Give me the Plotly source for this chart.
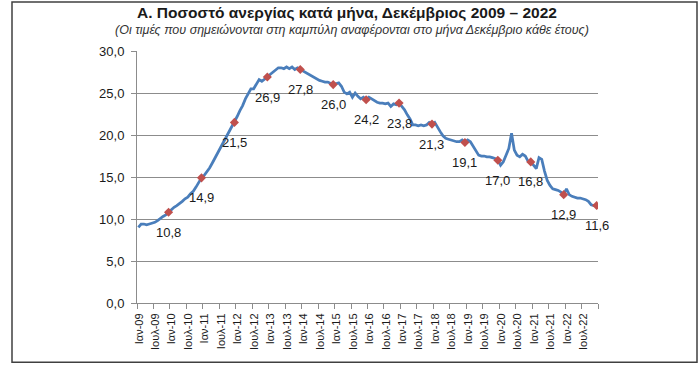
import plotly.graph_objects as go

# ---------------- data ----------------
years = list(range(2009, 2023))
month_tick_names = ["Ιαν", "Ιουλ"]

rates_2009 = [9.0, 9.4, 9.4, 9.3, 9.4, 9.5, 9.6, 9.8, 10.1, 10.3, 10.5, 10.8]
rates_2010 = [11.2, 11.4, 11.6, 11.8, 12.1, 12.4, 12.6, 13.0, 13.3, 13.8, 14.3, 14.9]
rates_2011 = [15.2, 15.6, 16.1, 16.7, 17.3, 17.9, 18.6, 19.2, 19.8, 20.4, 20.9, 21.5]
rates_2012 = [22.2, 22.9, 23.5, 24.3, 24.9, 25.5, 25.5, 26.0, 26.6, 26.4, 26.6, 26.9]
rates_2013 = [27.2, 27.5, 27.8, 28.0, 28.0, 27.9, 28.1, 27.9, 28.1, 27.8, 28.0, 27.8]
rates_2014 = [27.7, 27.5, 27.3, 27.0, 26.8, 26.6, 26.5, 26.4, 26.3, 26.3, 26.1, 26.0]
rates_2015 = [26.1, 26.2, 25.8, 25.1, 24.9, 25.1, 24.5, 25.0, 24.6, 24.3, 24.5, 24.2]
rates_2016 = [24.5, 24.3, 24.0, 23.9, 23.8, 23.8, 23.7, 23.8, 23.4, 23.7, 23.6, 23.8]
rates_2017 = [23.4, 23.0, 22.4, 21.9, 21.2, 21.2, 21.1, 21.2, 21.1, 21.2, 21.5, 21.3]
rates_2018 = [21.5, 20.9, 20.4, 19.9, 19.6, 19.5, 19.4, 19.3, 19.2, 19.2, 19.4, 19.1]
rates_2019 = [19.4, 19.2, 18.7, 18.2, 17.6, 17.5, 17.5, 17.4, 17.4, 17.3, 17.2, 17.0]
rates_2020 = [16.4, 16.8, 17.6, 18.4, 20.2, 18.2, 17.6, 17.4, 17.7, 17.5, 16.9, 16.8]
rates_2021 = [16.4, 16.0, 17.3, 17.1, 15.7, 14.6, 14.0, 13.6, 13.5, 13.4, 13.2, 12.9]
rates_2022 = [13.6, 12.9, 12.7, 12.6, 12.5, 12.5, 12.4, 12.3, 12.1, 11.7, 11.6, 11.6]

december_values = [10.8, 14.9, 21.5, 26.9, 27.8, 26.0, 24.2, 23.8, 21.3, 19.1, 17.0, 16.8, 12.9, 11.6]

y_tick_values = [0, 5, 10, 15, 20, 25, 30]
y_tick_labels = ["0,0", "5,0", "10,0", "15,0", "20,0", "25,0", "30,0"]

title_text = "Α. Ποσοστό ανεργίας κατά μήνα, Δεκέμβριος 2009 – 2022"
subtitle_text = "(Οι τιμές που σημειώνονται στη καμπύλη αναφέρονται στο μήνα Δεκέμβριο κάθε έτους)"

# ---------------- build ----------------
rates = (rates_2009 + rates_2010 + rates_2011 + rates_2012 + rates_2013 + rates_2014 +
         rates_2015 + rates_2016 + rates_2017 + rates_2018 + rates_2019 + rates_2020 +
         rates_2021 + rates_2022)
months_idx = list(range(len(rates)))
dec_idx = [12 * k + 11 for k in range(len(years))]

x_tick_vals = []
x_tick_text = []
for y in years:
    for m, name in zip((0, 6), month_tick_names):
        x_tick_vals.append(12 * (y - 2009) + m - 0.5)
        x_tick_text.append(f"{name}-{str(y)[2:]}")
x_tick_vals.append(len(rates) - 0.5)
x_tick_text.append("")

W, H = 700, 365
L, R, T, B = 137, 598, 51, 302.7


def px_x(px):
    return (px - L) / (R - L)


def px_y(py):
    return (B - py) / (B - T)


FONT = "Liberation Sans, Arial, sans-serif"
TXT = "#1a1a1a"
GRID = "#8c8c8c"

fig = go.Figure()
fig.add_trace(go.Scatter(
    x=months_idx, y=rates, mode="lines",
    line=dict(color="#4A7EBB", width=2.75), hoverinfo="skip", showlegend=False,
))
fig.add_trace(go.Scatter(
    x=dec_idx, y=december_values, mode="markers",
    marker=dict(symbol="diamond", color="#C0504D", size=7),
    hoverinfo="skip", showlegend=False,
))

for xi, v in zip(dec_idx, december_values):
    fig.add_annotation(
        x=xi, y=v, xref="x", yref="y", text=f"{v:.1f}".replace(".", ","),
        showarrow=False, yshift=-20, xanchor="center", yanchor="middle",
        font=dict(family=FONT, size=13, color=TXT),
    )

fig.add_annotation(
    x=px_x(347), y=px_y(13), xref="paper", yref="paper", text=f"<b>{title_text}</b>",
    showarrow=False, xanchor="center", yanchor="middle",
    font=dict(family=FONT, size=15.5, color=TXT),
)
fig.add_annotation(
    x=px_x(352), y=px_y(30), xref="paper", yref="paper", text=f"<i>{subtitle_text}</i>",
    showarrow=False, xanchor="center", yanchor="middle",
    font=dict(family=FONT, size=12.5, color="#333333"),
)

fig.add_shape(
    type="rect", xref="paper", yref="paper",
    x0=px_x(12), x1=px_x(697), y0=px_y(362), y1=px_y(2),
    line=dict(color="#404040", width=1.5), fillcolor="rgba(0,0,0,0)", layer="above",
)

fig.update_layout(
    width=W, height=H, autosize=False,
    margin=dict(l=L, r=W - R, t=T, b=H - B, pad=0),
    paper_bgcolor="white", plot_bgcolor="white",
    font=dict(family=FONT, color=TXT),
    showlegend=False,
)
fig.update_xaxes(
    range=[-0.5, len(rates) - 0.5], tickmode="array",
    tickvals=x_tick_vals, ticktext=x_tick_text, tickangle=-90,
    ticks="outside", ticklen=5, tickcolor=GRID, tickwidth=1,
    showline=True, linecolor=GRID, linewidth=1, showgrid=False, zeroline=False,
    tickfont=dict(family=FONT, size=11, color=TXT), ticklabelshift=2,
)
fig.update_yaxes(
    range=[0, 30], tickmode="array", tickvals=y_tick_values, ticktext=y_tick_labels,
    ticks="outside", ticklen=5, tickcolor=GRID, tickwidth=1,
    showline=True, linecolor=GRID, linewidth=1,
    showgrid=True, gridcolor=GRID, gridwidth=1, zeroline=False,
    tickfont=dict(family=FONT, size=13, color=TXT), ticklabelstandoff=4,
)

fig.write_html("out.html", config={"displayModeBar": False},
               post_script="document.body.style.margin='0';")
